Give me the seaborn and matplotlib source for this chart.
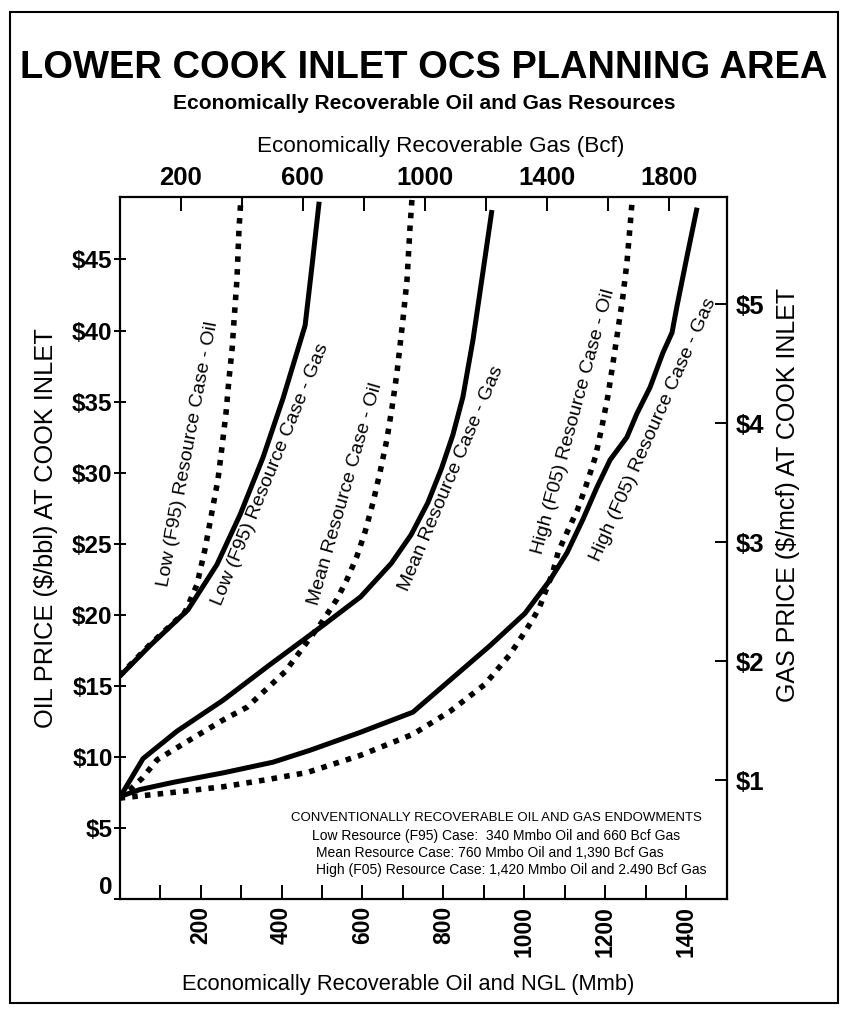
import numpy as np
import pandas as pd
import matplotlib
matplotlib.use('Agg')
import matplotlib.pyplot as plt
import seaborn as sns
from matplotlib.ticker import FixedLocator
from matplotlib.patches import Rectangle

# --- data ---
# oil curves: Mmb (bottom axis) vs $/bbl (left axis)
low_oil_mmb = [0, 75, 162, 191, 211, 228, 243, 253, 263, 270, 278, 283, 290, 295, 300]
low_oil_price = [15.7, 17.9, 20.2, 22.1, 24.6, 27.2, 29.5, 31.8, 34.2, 36.5, 38.7, 40.8, 43.6, 47.1, 49.4]

mean_oil_mmb = [0, 26, 56, 93, 174, 256, 315, 409, 500, 537, 562, 586, 606, 626, 643, 660, 673, 685, 700, 710, 717, 722]
mean_oil_price = [7.1, 7.7, 8.5, 9.8, 11.2, 12.6, 13.5, 16.0, 19.5, 21.1, 22.5, 24.1, 25.8, 27.9, 30.0, 32.3, 34.6,
                  37.0, 40.8, 43.6, 47.1, 49.2]

high_oil_mmb = [0, 33, 132, 256, 364, 463, 594, 725, 816, 902, 964, 1001, 1021, 1038, 1070, 1083, 1105, 1131, 1151,
                1175, 1191, 1206, 1219, 1231, 1243, 1253, 1260, 1266]
high_oil_price = [7.1, 7.2, 7.5, 7.9, 8.4, 8.9, 10.1, 11.6, 13.2, 15.1, 17.2, 18.8, 19.7, 20.6, 23.0, 24.4, 25.8, 27.4,
                  29.0, 31.1, 33.2, 35.4, 37.8, 40.1, 42.4, 44.8, 47.1, 49.2]

# gas curves: Bcf (top axis) vs $/mcf (right axis)
low_gas_bcf = [0, 100, 224, 319, 395, 470, 536, 608, 631, 654]
low_gas_price = [1.87, 2.13, 2.43, 2.81, 3.23, 3.71, 4.21, 4.82, 5.33, 5.86]

mean_gas_bcf = [0, 77, 188, 339, 493, 667, 790, 890, 955, 1010, 1055, 1092, 1125, 1158, 1190, 1220]
mean_gas_price = [0.85, 1.18, 1.41, 1.67, 1.97, 2.30, 2.54, 2.82, 3.06, 3.33, 3.62, 3.90, 4.22, 4.70, 5.26, 5.79]

high_gas_bcf = [0, 67, 175, 339, 503, 624, 788, 961, 1083, 1214, 1328, 1410, 1466, 1518, 1564, 1607, 1662, 1695,
                1738, 1780, 1810, 1826, 1859, 1892]
high_gas_price = [0.86, 0.92, 0.98, 1.06, 1.15, 1.25, 1.40, 1.57, 1.84, 2.13, 2.40, 2.68, 2.91, 3.19, 3.46, 3.69,
                  3.88, 4.08, 4.30, 4.59, 4.76, 4.98, 5.40, 5.81]

oil_ticks = [0, 5, 10, 15, 20, 25, 30, 35, 40, 45]
oil_tick_labels = ['0', '$5', '$10', '$15', '$20', '$25', '$30', '$35', '$40', '$45']
gas_price_ticks = [1, 2, 3, 4, 5]
gas_price_labels = ['$1', '$2', '$3', '$4', '$5']
mmb_ticks = [200, 400, 600, 800, 1000, 1200, 1400]
bcf_ticks = [200, 600, 1000, 1400, 1800]

endowment_title = 'CONVENTIONALLY RECOVERABLE OIL AND GAS ENDOWMENTS'
endowment_lines = [
    'Low Resource (F95) Case:  340 Mmbo Oil and 660 Bcf Gas',
    'Mean Resource Case: 760 Mmbo Oil and 1,390 Bcf Gas',
    'High (F05) Resource Case: 1,420 Mmbo Oil and 2.490 Bcf Gas',
]

sns.set_style('white')
plt.rcParams['font.family'] = ['Liberation Sans', 'DejaVu Sans']
plt.rcParams['text.color'] = 'black'
plt.rcParams['xtick.color'] = 'black'
plt.rcParams['ytick.color'] = 'black'
plt.rcParams['axes.labelcolor'] = 'black'

fig = plt.figure(figsize=(8.47, 10.09), dpi=100)
ax = fig.add_axes([0.1411, 0.1090, 0.7172, 0.6958])
ax_gas = fig.add_axes(ax.get_position(), frameon=False)
ax_gas.patch.set_visible(False)

solid_kw = dict(color='black', linewidth=3.6, solid_capstyle='butt')
dot_kw = dict(color='black', linewidth=4.0, linestyle=(0, (1, 1.3)), dash_capstyle='butt')

for xs, ys in [(low_oil_mmb, low_oil_price), (mean_oil_mmb, mean_oil_price), (high_oil_mmb, high_oil_price)]:
    df = pd.DataFrame({'x': xs, 'y': ys})
    sns.lineplot(data=df, x='x', y='y', ax=ax, sort=False, estimator=None, **dot_kw)

for xs, ys in [(low_gas_bcf, low_gas_price), (mean_gas_bcf, mean_gas_price), (high_gas_bcf, high_gas_price)]:
    df = pd.DataFrame({'x': xs, 'y': ys})
    sns.lineplot(data=df, x='x', y='y', ax=ax_gas, sort=False, estimator=None, **solid_kw)

ax.set_xlim(0, 1500)
ax.set_ylim(0, 49.4)
ax_gas.set_xlim(0, 1990)
ax_gas.set_ylim(0, 5.9)

# oil axes (bottom / left)
for s in ax.spines.values():
    s.set_linewidth(1.6)
    s.set_color('black')
ax.set_xlabel('')
ax.set_ylabel('')
ax.xaxis.set_major_locator(FixedLocator(mmb_ticks))
ax.xaxis.set_minor_locator(FixedLocator([100, 300, 500, 700, 900, 1100, 1300]))
ax.set_xticklabels([str(t) for t in mmb_ticks], rotation=90, fontsize=16.5, fontweight='bold')
ax.tick_params(axis='x', which='both', direction='in', length=10, width=1.4, pad=5, colors='black', bottom=True)
ax.set_yticks(oil_ticks)
ax.set_yticklabels(oil_tick_labels, fontsize=17.5, fontweight='bold')
ax.tick_params(axis='y', which='both', direction='inout', length=8, width=1.4, pad=1, left=True, colors='black')
ax.get_yticklabels()[0].set_verticalalignment('bottom')

# gas axes (top / right)
ax_gas.set_xlabel('')
ax_gas.set_ylabel('')
ax_gas.xaxis.tick_top()
ax_gas.yaxis.tick_right()
ax_gas.xaxis.set_major_locator(FixedLocator(bcf_ticks))
ax_gas.xaxis.set_minor_locator(FixedLocator([400, 800, 1200, 1600]))
ax_gas.set_xticklabels([str(t) for t in bcf_ticks], fontsize=18.5, fontweight='bold')
ax_gas.tick_params(axis='x', which='both', direction='in', length=10, width=1.4, pad=5, top=True, bottom=False,
                   colors='black')
ax_gas.set_yticks(gas_price_ticks)
ax_gas.set_yticklabels(gas_price_labels, fontsize=18.5, fontweight='bold')
ax_gas.tick_params(axis='y', which='both', direction='in', length=9, width=1.4, pad=6, right=True, left=False,
                   colors='black')

# curve labels (placed in oil-axis data units)
curve_labels = [
    ('Low (F95) Resource Case - Oil', 169, 31.3, 79.5),
    ('Low (F95) Resource Case - Gas', 374, 29.9, 67.7),
    ('Mean Resource Case - Oil', 557, 28.5, 74),
    ('Mean Resource Case - Gas', 818, 29.6, 67),
    ('High (F05) Resource Case - Oil', 1122, 33.6, 74.8),
    ('High (F05) Resource Case - Gas', 1318, 33.0, 66),
]
for txt, x, y, ang in curve_labels:
    ax.text(x, y, txt, rotation=ang, rotation_mode='anchor', ha='center', va='center', fontsize=14,
            color='black')

# endowment note
note_head = ax.text(0.621, 0.1154, endowment_title, transform=ax.transAxes,
                    ha='center', va='center', fontsize=10, color='black')
note_rows = []
for i, (line, xf) in enumerate(zip(endowment_lines, [0.317, 0.323, 0.323])):
    note_rows.append(ax.text(xf, 0.0897 - i * 0.0242, line, transform=ax.transAxes,
                             ha='left', va='center', fontsize=10, color='black'))

# titles and axis labels
title = fig.text(0.5006, 0.9326, 'LOWER COOK INLET OCS PLANNING AREA', ha='center', va='center',
                 fontsize=30, fontweight='bold')
subtitle = fig.text(0.5006, 0.8979, 'Economically Recoverable Oil and Gas Resources', ha='center', va='center',
                    fontsize=15, fontweight='bold')
gas_label = fig.text(0.5207, 0.8553, 'Economically Recoverable Gas (Bcf)', ha='center', va='center', fontsize=15)
oil_label = fig.text(0.4817, 0.0238, 'Economically Recoverable Oil and NGL (Mmb)', ha='center', va='center',
                     fontsize=17)
left_label = fig.text(0.0543, 0.477, 'OIL PRICE ($/bbl) AT COOK INLET', rotation=90, ha='center', va='center',
                      fontsize=17)
right_label = fig.text(0.930, 0.509, 'GAS PRICE ($/mcf) AT COOK INLET', rotation=90, ha='center', va='center',
                       fontsize=17)

# scale the condensed-looking texts so their widths match the original
fig.canvas.draw()
rend = fig.canvas.get_renderer()


def fit(t, target, vertical=False):
    bb = t.get_window_extent(rend)
    cur = bb.height if vertical else bb.width
    t.set_fontsize(t.get_fontsize() * target / cur)


fit(title, 806)
fit(subtitle, 503)
fit(gas_label, 366)
fit(oil_label, 455)
fit(left_label, 400, vertical=True)
fit(right_label, 415, vertical=True)
fit(note_head, 412)
fit(note_rows[0], 368)
for t in note_rows[1:]:
    t.set_fontsize(note_rows[0].get_fontsize())

# outer frame
fig.patches.append(Rectangle((10 / 847, 1 - 1003 / 1009), 828 / 847, 991 / 1009, transform=fig.transFigure,
                             fill=False, edgecolor='black', linewidth=1.5))

fig.savefig('out.png', dpi=100)
